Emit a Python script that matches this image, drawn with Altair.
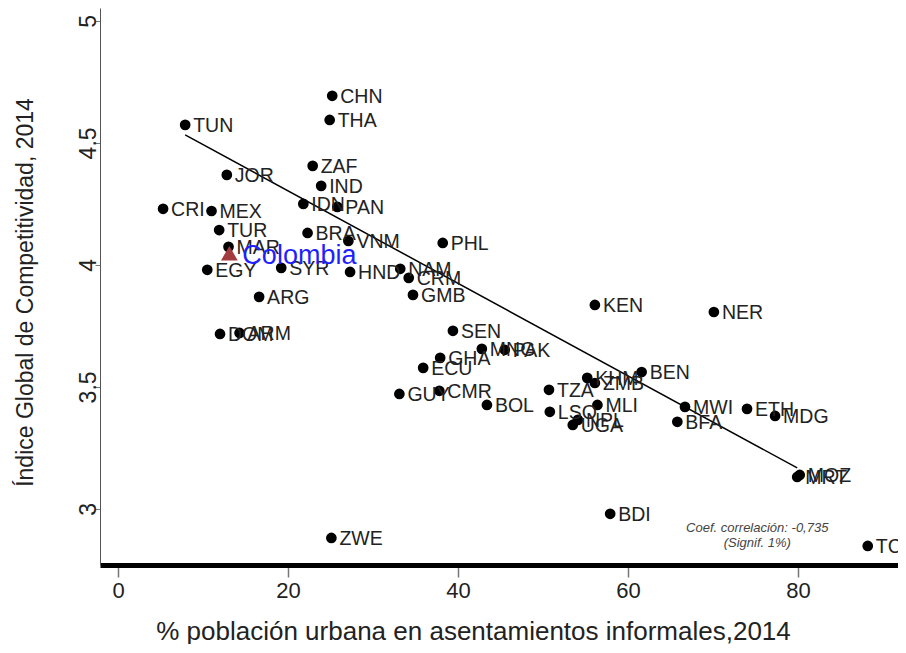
import altair as alt
import pandas as pd

# ---- data ----
codes = ["TUN", "CHN", "THA", "ZAF", "IND", "JOR", "CRI", "MEX", "IDN", "PAN",
         "TUR", "BRA", "VNM", "MAR", "EGY", "SYR", "HND", "PHL", "NAM", "CRM",
         "GMB", "ARG", "KEN", "NER", "SEN", "DOM", "ARM", "MNG", "PAK", "GHA",
         "ECU", "GUY", "CMR", "BOL", "TZA", "LSO", "BEN", "MLI", "KHM", "ZMB",
         "NPL", "UGA", "MWI", "BFA", "ETH", "MDG", "MOZ", "MRT", "BDI", "ZWE",
         "TCD"]
pct_informal = [7.9, 25.2, 24.9, 22.9, 23.9, 12.8, 5.3, 11.0, 21.8, 25.8,
                11.9, 22.3, 27.1, 13.0, 10.5, 19.2, 27.3, 38.2, 33.2, 34.2,
                34.7, 16.6, 56.1, 70.1, 39.4, 12.0, 14.3, 42.8, 45.5, 37.9,
                35.9, 33.1, 37.8, 43.4, 50.7, 50.8, 61.6, 56.4, 55.2, 56.1,
                54.1, 53.5, 66.7, 65.8, 74.0, 77.3, 80.2, 79.9, 57.9, 25.1,
                88.2]
gci = [4.574, 4.693, 4.594, 4.406, 4.324, 4.369, 4.230, 4.221, 4.250, 4.238,
       4.143, 4.131, 4.098, 4.074, 3.980, 3.988, 3.971, 4.090, 3.984, 3.947,
       3.877, 3.869, 3.836, 3.807, 3.730, 3.717, 3.721, 3.656, 3.652, 3.619,
       3.578, 3.471, 3.484, 3.426, 3.488, 3.398, 3.561, 3.426, 3.537, 3.516,
       3.365, 3.344, 3.418, 3.357, 3.410, 3.381, 3.139, 3.131, 2.980, 2.881,
       2.848]

colombia_name = ["Colombia"]
colombia_x = [13.1]
colombia_y = [4.048]

fit_x = [7.9, 79.9]
fit_y = [4.533, 3.168]

note_lines = ["Coef. correlación: -0,735", "(Signif. 1%)"]
note_x = [75.2, 75.2]
note_y = [2.922, 2.861]

x_ticks = [0, 20, 40, 60, 80]
y_ticks = [3, 3.5, 4, 4.5, 5]

x_title = "% población urbana en asentamientos informales,2014"
y_title = "Índice Global de Competitividad, 2014"

FONT = "Liberation Sans"

df = pd.DataFrame({"code": codes, "x": pct_informal, "y": gci})
col_df = pd.DataFrame({"name": colombia_name, "x": colombia_x, "y": colombia_y})
fit_df = pd.DataFrame({"x": fit_x, "y": fit_y})
note_df = pd.DataFrame({"t": note_lines, "x": note_x, "y": note_y})

xscale = alt.Scale(domain=[-2.12, 91.76], nice=False, zero=False)
yscale = alt.Scale(domain=[2.770, 5.053], nice=False, zero=False)

xaxis = alt.Axis(values=x_ticks, grid=False, domainColor="black", domainWidth=5,
                 tickColor="#777", tickWidth=1.5, tickSize=12,
                 labelFont=FONT, labelFontSize=22, labelColor="#222", labelPadding=3,
                 title=x_title, titleFont=FONT, titleFontSize=26, titleX=373,
                 titleFontWeight="normal", titleColor="#222", titlePadding=17)
yaxis = alt.Axis(values=y_ticks, grid=False, domainColor="#555", domainWidth=1,
                 tickColor="#777", tickWidth=1, tickSize=5,
                 labelFont=FONT, labelFontSize=23, labelColor="#222",
                 labelAngle=270, labelAlign="center", labelBaseline="alphabetic",
                 labelPadding=0, labelExpr="'' + datum.value",
                 title=y_title, titleFont=FONT, titleFontSize=23, titleY=284,
                 titleFontWeight="normal", titleColor="#222", titlePadding=40)

X = alt.X("x:Q", scale=xscale, axis=xaxis)
Y = alt.Y("y:Q", scale=yscale, axis=yaxis)

points = alt.Chart(df).mark_circle(size=115, color="black", opacity=1).encode(x=X, y=Y)
labels = alt.Chart(df).mark_text(align="left", baseline="middle", dx=8, dy=1,
                                 font=FONT, fontSize=19.5, color="#222").encode(
    x=X, y=Y, text="code:N")
fit = alt.Chart(fit_df).mark_line(color="black", strokeWidth=1.5).encode(x=X, y=Y)
tri = alt.Chart(col_df).mark_point(shape="triangle-up", filled=True, size=280,
                                   color="#a33a3e", opacity=1).encode(x=X, y=Y)
col_text = alt.Chart(col_df).mark_text(align="left", baseline="middle", dx=13, dy=3,
                                       font=FONT, fontSize=27, color="#1f1fff").encode(
    x=X, y=Y, text="name:N")
note = alt.Chart(note_df).mark_text(align="center", baseline="middle", font=FONT,
                                    fontSize=13, fontStyle="italic", color="#444").encode(
    x=X, y=Y, text="t:N")

chart = alt.layer(points, fit, labels, tri, col_text, note).properties(
    width=798, height=557,
    autosize=alt.AutoSizeParams(type="none"),
    padding={"left": 92, "top": 0, "right": 0, "bottom": 79},
    background="white",
).configure_view(stroke=None)

chart.save("out.html", embed_options={"renderer": "svg", "actions": False})
